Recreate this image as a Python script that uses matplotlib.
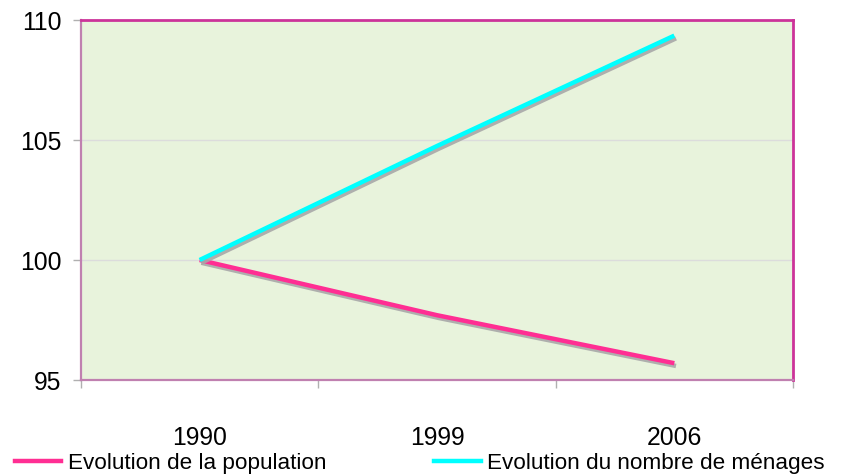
import matplotlib
matplotlib.use("Agg")
import matplotlib.pyplot as plt
import matplotlib.patheffects as pe
from matplotlib.lines import Line2D

plt.rcParams['font.family'] = ['Liberation Sans', 'DejaVu Sans']

years = ["1990", "1999", "2006"]
population = [100.0, 97.7, 95.7]
menages = [100.0, 104.75, 109.35]
series_labels = ["Evolution de la population", "Evolution du nombre de ménages"]
y_ticks = [95, 100, 105, 110]

pink = "#FF2E93"
cyan = "#00FFFF"

fig = plt.figure(figsize=(8.55, 4.76), dpi=100)
ax = fig.add_axes([81/855, 96/476, 712/855, 360/476])
ax.set_facecolor("#E8F3DC")

x = list(range(len(years)))
shadow = [pe.SimpleLineShadow(offset=(1.2, -2.0), shadow_color="#A8A8A8", alpha=0.9), pe.Normal()]
ax.plot(x, population, color=pink, lw=3.2, solid_capstyle='butt', path_effects=shadow, zorder=3)
ax.plot(x, menages, color=cyan, lw=3.2, solid_capstyle='butt', path_effects=shadow, zorder=3)

ax.set_xlim(-0.5, len(years) - 0.5)
ax.set_ylim(95, 110)
ax.set_yticks(y_ticks)
ax.set_yticklabels([str(v) for v in y_ticks], fontsize=17.8)
ax.yaxis.grid(True, color="#DCDCDC", lw=1.0)
ax.set_axisbelow(True)

ax.set_xticks(x)
ax.set_xticklabels(years, fontsize=17.8)
ax.set_xticks([i - 0.5 for i in range(len(years) + 1)], minor=True)
ax.tick_params(axis='x', which='major', length=0, pad=33)
ax.tick_params(axis='x', which='minor', length=6, color="#B0B0B0", width=1)
ax.tick_params(axis='y', which='major', length=6, color="#B0B0B0", width=1, pad=8)

for s in ['top', 'right']:
    ax.spines[s].set_color("#CC3399")
    ax.spines[s].set_linewidth(2.0)
for s in ['left', 'bottom']:
    ax.spines[s].set_color("#C080B0")
    ax.spines[s].set_linewidth(1.6)

handles = [Line2D([], [], color=pink, lw=3.2), Line2D([], [], color=cyan, lw=3.2)]
fig.legend(handles, series_labels, loc='center left', bbox_to_anchor=(15/855, 13/476),
           ncol=2, frameon=False, fontsize=16.2, handlelength=2.05, handletextpad=0.3,
           columnspacing=4.8, borderpad=0, borderaxespad=0)

fig.savefig("out.png", dpi=100)
